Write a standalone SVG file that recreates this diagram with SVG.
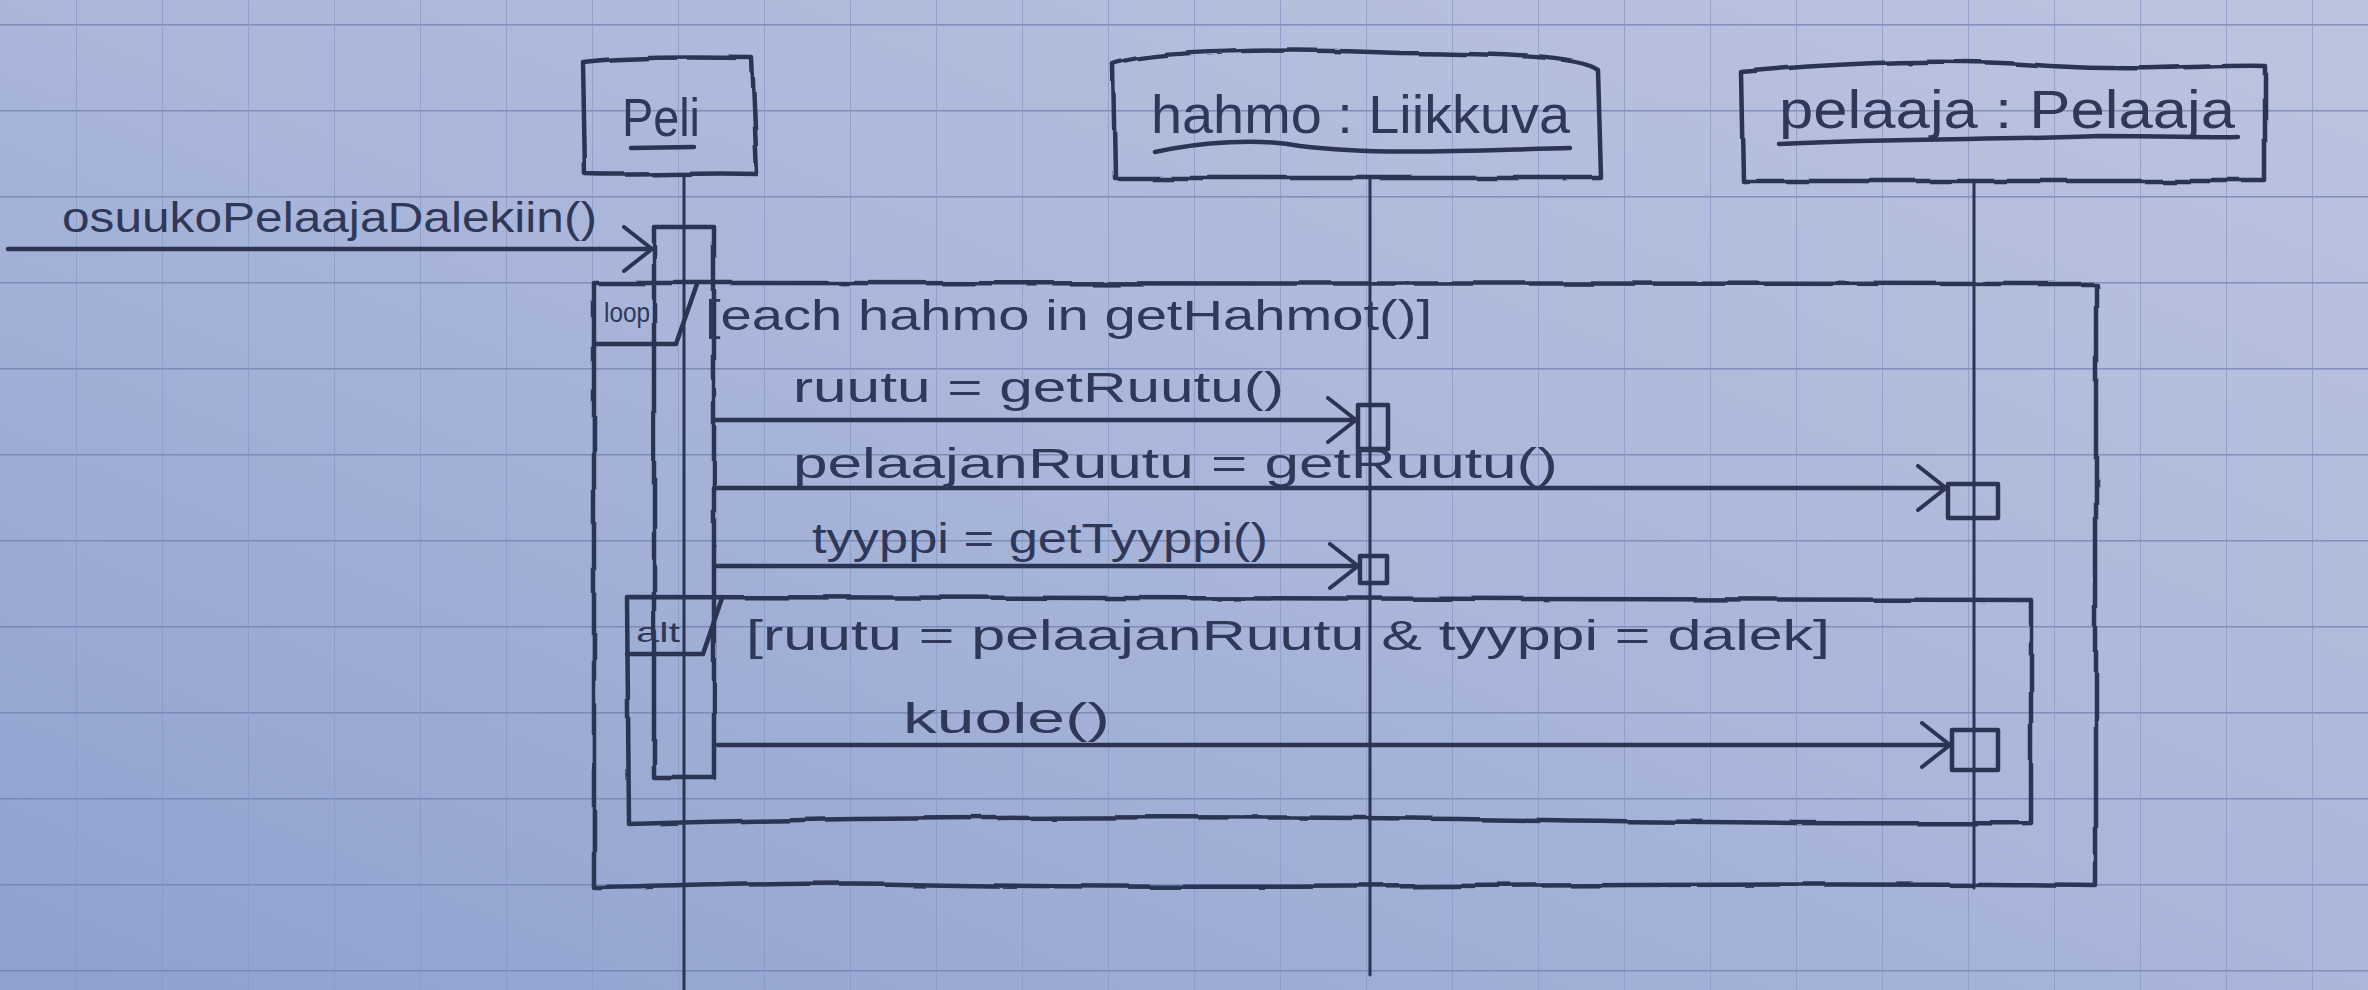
<svg xmlns="http://www.w3.org/2000/svg" width="2368" height="990" viewBox="0 0 2368 990">
  <defs>
    <linearGradient id="paper" x1="1" y1="0" x2="0" y2="1">
      <stop offset="0" stop-color="#bcc4df"/>
      <stop offset="0.5" stop-color="#aab6da"/>
      <stop offset="1" stop-color="#8ea1cf"/>
    </linearGradient>
    <pattern id="grid" x="-10" y="24" width="86" height="86" patternUnits="userSpaceOnUse">
      <line x1="0" y1="0" x2="86" y2="0" stroke="#6e7fae" stroke-width="3" opacity="0.75"/>
      <line x1="0" y1="0" x2="0" y2="86" stroke="#8796c4" stroke-width="2" opacity="0.7"/>
    </pattern>
    <filter id="rough" x="-5%" y="-5%" width="110%" height="110%">
      <feTurbulence type="fractalNoise" baseFrequency="0.015" numOctaves="2" seed="3"/>
      <feDisplacementMap in="SourceGraphic" scale="5"/>
    </filter>
    <marker id="open" viewBox="0 0 32 48" refX="30" refY="24" markerWidth="32" markerHeight="48" markerUnits="userSpaceOnUse" orient="auto">
      <path d="M2,2 L30,24 L2,46" fill="none" stroke="#2b3452" stroke-width="4" stroke-linecap="round" stroke-linejoin="round"/>
    </marker>
    <style>
      .ink { fill: none; stroke: #2b3452; stroke-width: 4.5; stroke-linecap: round; stroke-linejoin: round; }
      .thin { fill: none; stroke: #2b3452; stroke-width: 3; stroke-linecap: round; }
      .msg { fill: none; stroke: #2b3452; stroke-width: 4.5; stroke-linecap: round; marker-end: url(#open); }
      .t { font-family: "Liberation Sans", "DejaVu Sans", sans-serif; fill: #2f3858; lengthAdjust: spacingAndGlyphs; }
      .name { font-size: 54px; }
      .lbl { font-size: 42px; }
      .tag { font-size: 28px; }
    </style>
  </defs>

  <rect x="0" y="0" width="2368" height="990" fill="url(#paper)"/>
  <rect x="0" y="0" width="2368" height="990" fill="url(#grid)"/>

  <g id="Peli">
    <path class="ink" filter="url(#rough)" d="M583,62 C630,56 700,57 752,58 L757,174 C700,172 640,176 585,174 Z"/>
    <text class="t name" x="622" y="136" textLength="78" lengthAdjust="spacingAndGlyphs">Peli</text>
    <path class="ink" d="M631,148 L694,147"/>
    <line class="thin" x1="684" y1="176" x2="684" y2="990"/>
    <rect class="ink" filter="url(#rough)" x="654" y="227" width="60" height="551"/>
  </g>

  <g id="hahmo">
    <path class="ink" filter="url(#rough)" d="M1113,64 C1150,50 1300,48 1400,53 C1500,54 1580,56 1598,70 L1601,178 L1115,178 Z"/>
    <text class="t name" x="1151" y="133" textLength="419" lengthAdjust="spacingAndGlyphs">hahmo : Liikkuva</text>
    <path class="ink" d="M1155,152 C1200,142 1260,138 1300,146 C1380,156 1480,150 1570,148"/>
    <line class="thin" x1="1370" y1="178" x2="1370" y2="975"/>
    <rect class="ink" x="1358" y="405" width="30" height="44"/>
    <rect class="ink" x="1360" y="556" width="27" height="27"/>
  </g>

  <g id="pelaaja">
    <path class="ink" filter="url(#rough)" d="M1741,72 C1850,62 1950,58 2050,66 C2150,72 2220,64 2265,66 L2265,181 L1743,181 Z"/>
    <text class="t name" x="1779" y="128" textLength="456" lengthAdjust="spacingAndGlyphs">pelaaja : Pelaaja</text>
    <path class="ink" d="M1779,144 C1900,138 2000,140 2100,136 C2170,136 2210,138 2238,137"/>
    <line class="thin" x1="1974" y1="181" x2="1974" y2="888"/>
    <rect class="ink" x="1948" y="484" width="50" height="34"/>
    <rect class="ink" x="1952" y="730" width="46" height="40"/>
  </g>

  <g id="loop">
    <path class="ink" filter="url(#rough)" d="M594,283 C1000,286 1500,280 2096,284 L2096,886 C1700,880 1300,892 900,884 C800,882 700,886 594,888 Z"/>
    <path class="ink" d="M594,344 L676,344 L697,284"/>
    <text class="t tag" x="604" y="322" textLength="46" lengthAdjust="spacingAndGlyphs">loop</text>
    <text class="t lbl" x="705" y="330" textLength="727" lengthAdjust="spacingAndGlyphs">[each hahmo in getHahmot()]</text>
  </g>

  <g id="alt">
    <path class="ink" filter="url(#rough)" d="M627,597 C1000,600 1500,598 2031,600 L2031,823 C1700,826 1400,814 1000,818 C850,818 700,822 629,824 Z"/>
    <path class="ink" d="M627,654 L703,654 L722,598"/>
    <text class="t tag" x="636" y="642" textLength="44" lengthAdjust="spacingAndGlyphs">alt</text>
    <text class="t lbl" x="746" y="650" textLength="1084" lengthAdjust="spacingAndGlyphs">[ruutu = pelaajanRuutu &amp; tyyppi = dalek]</text>
  </g>

  <g id="connectors">
    <path class="msg" d="M8,249 L652,249"/>
    <text class="t lbl" x="62" y="232" textLength="535" lengthAdjust="spacingAndGlyphs">osuukoPelaajaDalekiin()</text>

    <path class="msg" d="M714,420 L1356,420"/>
    <text class="t lbl" x="793" y="402" textLength="491" lengthAdjust="spacingAndGlyphs">ruutu = getRuutu()</text>

    <path class="msg" d="M714,488 L1946,488"/>
    <text class="t lbl" x="793" y="478" textLength="765" lengthAdjust="spacingAndGlyphs">pelaajanRuutu = getRuutu()</text>

    <path class="msg" d="M714,566 L1358,566"/>
    <text class="t lbl" x="812" y="553" textLength="456" lengthAdjust="spacingAndGlyphs">tyyppi = getTyyppi()</text>

    <path class="msg" d="M718,745 L1950,745"/>
    <text class="t lbl" x="903" y="733" textLength="207" lengthAdjust="spacingAndGlyphs">kuole()</text>
  </g>
</svg>
